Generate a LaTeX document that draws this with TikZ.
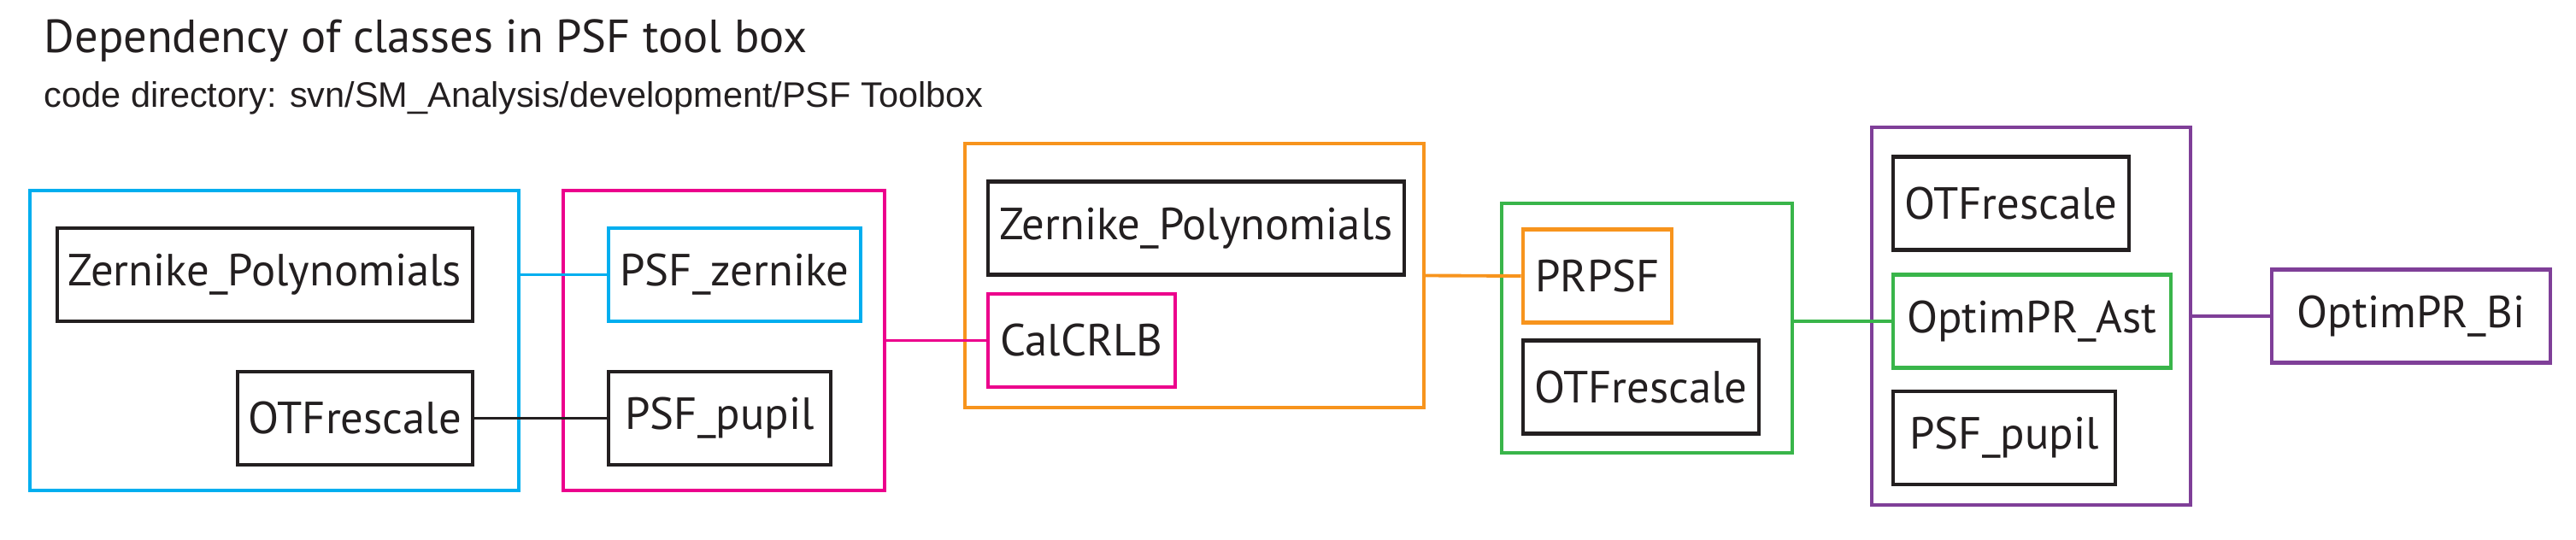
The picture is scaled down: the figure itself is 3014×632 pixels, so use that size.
\documentclass[tikz,border=0pt]{standalone}
\usepackage{fontspec}
\setmainfont{PT Sans}
\newfontfamily\pathfont{Liberation Sans}

\definecolor{psfblue}{HTML}{00AEEF}
\definecolor{psfmagenta}{HTML}{EC008C}
\definecolor{psforange}{HTML}{F7941D}
\definecolor{psfgreen}{HTML}{39B54A}
\definecolor{psfpurple}{HTML}{7F3F98}
\definecolor{psfblack}{HTML}{231F20}

\begin{document}
\begin{tikzpicture}[x=0.1mm, y=-0.1mm,
  cls/.style={rectangle, draw=psfblack, line width=1.3pt, minimum height=10.9mm,
    inner sep=0pt, font=\fontsize{15}{17}\selectfont, text=psfblack},
  group/.style={rectangle, line width=1.1pt, inner sep=0pt},
  link/.style={line width=1.1pt}
]
\useasboundingbox (0,0) rectangle (3014,632);

% titles
\node[anchor=base west, inner sep=0pt, font=\fontsize{15.5}{18}\selectfont, text=psfblack]
  (title) at (51,62) {Dependency of classes in PSF tool box};
\node[anchor=base west, inner sep=0pt, font=\pathfont\fontsize{11.8}{14}\selectfont, text=psfblack]
  (subtitle) at (51,126) {code directory: svn/SM\_Analysis/development/PSF Toolbox};

% groups
\node[group, draw=psfblue, minimum width=57.2mm, minimum height=35.1mm]      (gzern)  at (321,398.5)  {};
\node[group, draw=psfmagenta, minimum width=37.6mm, minimum height=35.1mm]   (gpsf)   at (847,398.5)  {};
\node[group, draw=psforange, minimum width=53.7mm, minimum height=30.9mm]    (gcrlb)  at (1397.5,322.5) {};
\node[group, draw=psfgreen, minimum width=34mm, minimum height=29.2mm]       (gprpsf) at (1927,384)   {};
\node[group, draw=psfpurple, minimum width=37.3mm, minimum height=44.2mm]    (gast)   at (2376.5,370) {};

% classes
\node[cls, minimum width=48.6mm] (zp1)    at (310,321.5)   {Zernike\_Polynomials};
\node[cls, minimum width=27.5mm] (otf1)   at (415.5,489.5) {OTFrescale};
\node[cls, draw=psfblue, minimum width=29.5mm] (psfz) at (859.5,321.5) {PSF\_zernike};
\node[cls, minimum width=26mm]   (pupil1) at (842,489.5)   {PSF\_pupil};
\node[cls, minimum width=48.7mm] (zp2)    at (1399.5,267)  {Zernike\_Polynomials};
\node[cls, draw=psfmagenta, minimum width=21.9mm] (crlb) at (1265.5,398.5) {CalCRLB};
\node[cls, draw=psforange, minimum width=17.4mm] (prpsf) at (1869,323) {PRPSF};
\node[cls, minimum width=27.6mm] (otf3)   at (1920,453)    {OTFrescale};
\node[cls, minimum width=27.6mm] (otf4)   at (2353,238)    {OTFrescale};
\node[cls, draw=psfgreen, minimum width=32.5mm] (ast) at (2377.5,376) {OptimPR\_Ast};
\node[cls, minimum width=26mm]   (pupil2) at (2345,512.5)  {PSF\_pupil};
\node[cls, draw=psfpurple, minimum width=32.6mm] (bi) at (2821,370) {OptimPR\_Bi};

% links
\draw[link, psfblue] (gzern.east |- psfz.west) -- (psfz.west);
\draw[link, psfblack] (otf1.east) -- (pupil1.west);
\draw[link, psfmagenta] (gpsf.east) -- (crlb.west);
\draw[link, psforange] (gcrlb.east) -- (prpsf.west);
\draw[link, psfgreen] (gprpsf.east |- ast.west) -- (ast.west);
\draw[link, psfpurple] (gast.east) -- (bi.west);

\end{tikzpicture}
\end{document}
